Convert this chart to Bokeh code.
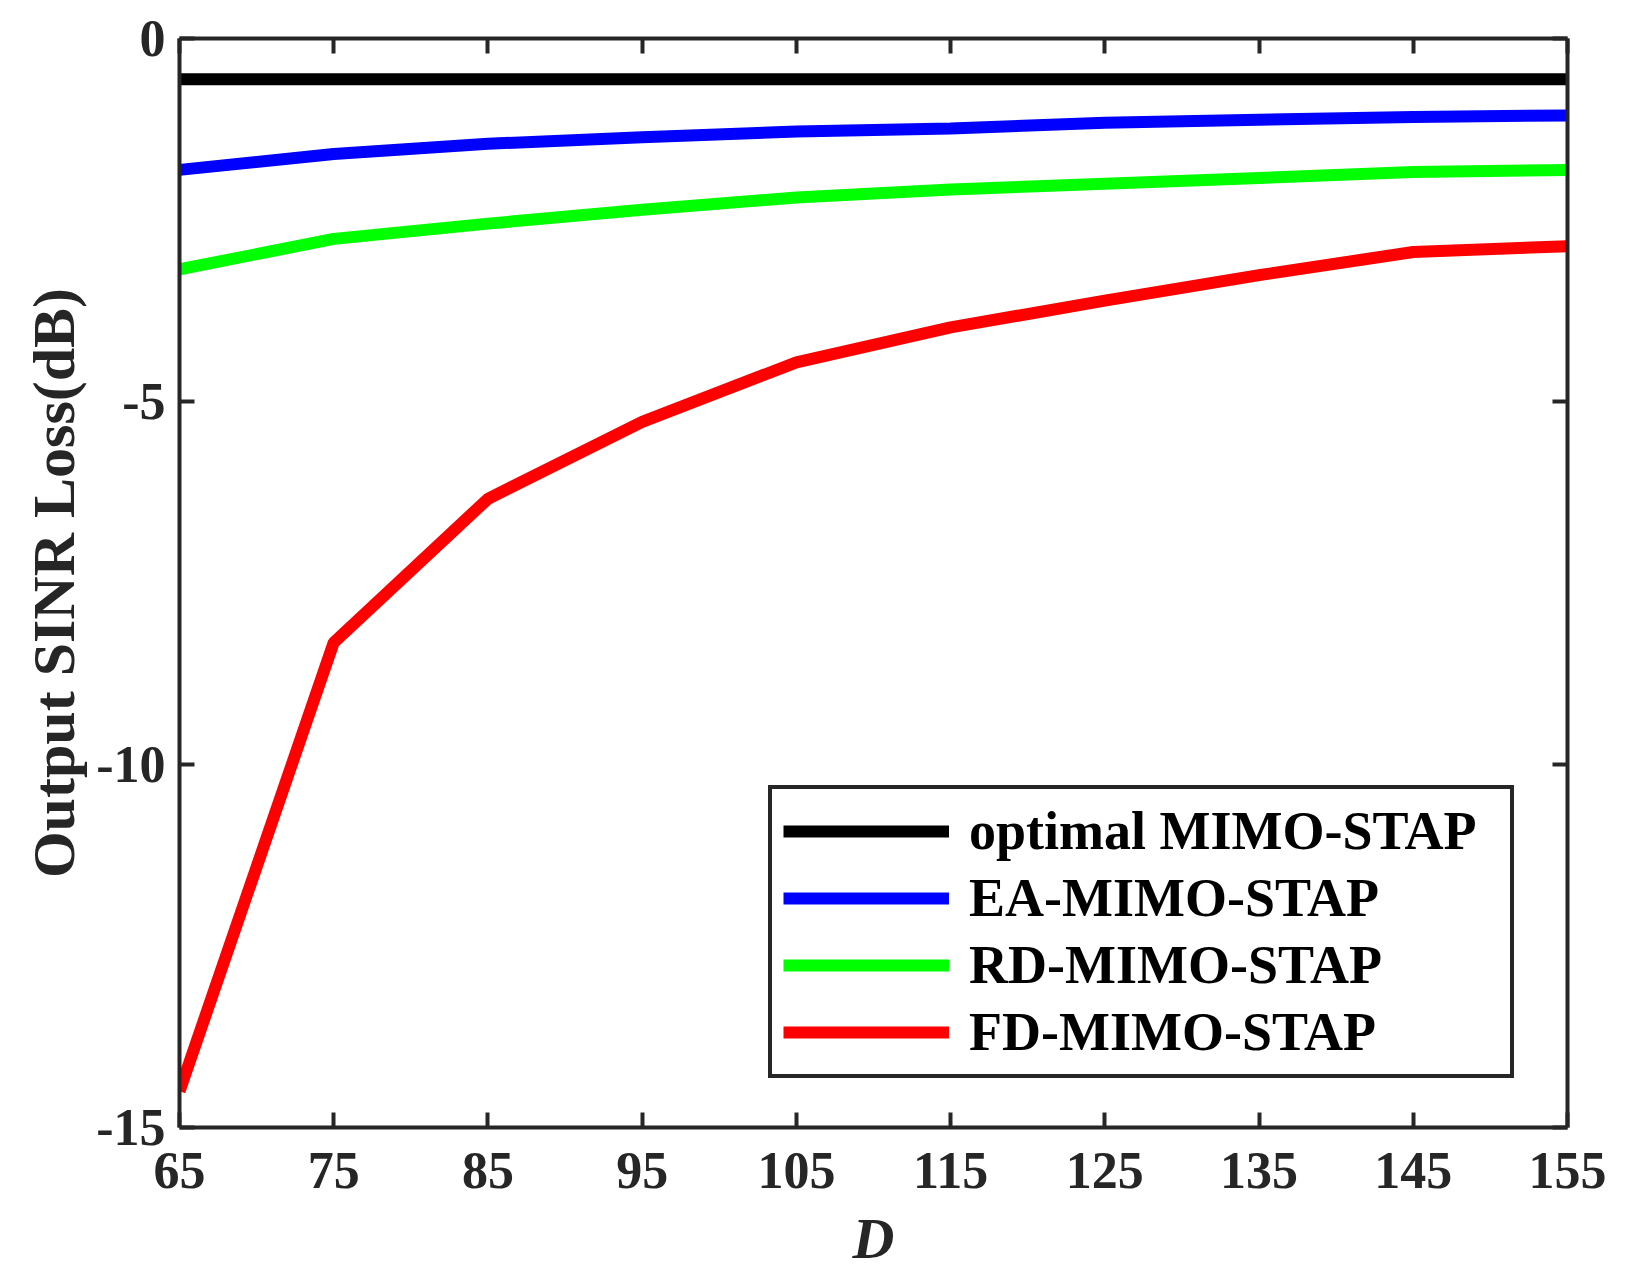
from bokeh.plotting import figure
from bokeh.models import (Range1d, FixedTicker, LinearAxis, Legend, LegendItem,
                          CustomJSTickFormatter, Title)
from bokeh.embed import file_html
from bokeh.resources import INLINE

# SINR loss versus D
D = [65, 75, 85, 95, 105, 115, 125, 135, 145, 155]
optimal = [-0.56, -0.56, -0.56, -0.56, -0.56, -0.56, -0.56, -0.56, -0.56, -0.56]
ea = [-1.81, -1.59, -1.45, -1.36, -1.28, -1.24, -1.16, -1.12, -1.08, -1.06]
rd = [-3.18, -2.76, -2.55, -2.36, -2.19, -2.08, -2.00, -1.92, -1.84, -1.81]
fd = [-14.5, -8.32, -6.34, -5.28, -4.46, -3.98, -3.61, -3.26, -2.94, -2.86]

names = ["optimal MIMO-STAP", "EA-MIMO-STAP", "RD-MIMO-STAP", "FD-MIMO-STAP"]
colors = ["#000000", "#0000ff", "#00ff00", "#ff0000"]
x_ticks = [65, 75, 85, 95, 105, 115, 125, 135, 145, 155]
y_ticks = [-15, -10, -5, 0]

FONT = "Liberation Serif"
AX = "#262626"

p = figure(frame_width=1388, frame_height=1089,
           x_range=Range1d(65, 155), y_range=Range1d(-15, 0),
           output_backend="svg", toolbar_location=None,
           min_border_left=179, min_border_right=50,
           min_border_top=38, min_border_bottom=139)
p.xgrid.visible = False
p.ygrid.visible = False
p.outline_line_color = None

p.add_layout(LinearAxis(), "above")
p.add_layout(LinearAxis(), "right")

for ax in p.xaxis:
    ax.ticker = FixedTicker(ticks=x_ticks)
for ax in p.yaxis:
    ax.ticker = FixedTicker(ticks=y_ticks)

for ax in p.xaxis + p.yaxis:
    ax.axis_line_color = AX
    ax.axis_line_width = 4
    ax.major_tick_line_color = AX
    ax.major_tick_line_width = 4
    ax.major_tick_in = 15
    ax.major_tick_out = 0
    ax.minor_tick_line_color = None
    ax.major_label_text_font = FONT
    ax.major_label_text_font_style = "bold"
    ax.major_label_text_font_size = "52px"
    ax.major_label_text_color = AX

# mirrored axes: ticks only
for ax in [p.above[0], p.right[0]]:
    ax.formatter = CustomJSTickFormatter(code="return ''")
    ax.major_label_standoff = 0

# plain hyphen for negative numbers
p.left[0].formatter = CustomJSTickFormatter(code="return tick.toString()")

p.below[0].major_label_standoff = 25
p.left[0].major_label_standoff = 14

p.below[0].axis_label = "D"
p.below[0].axis_label_text_font = FONT
p.below[0].axis_label_text_font_style = "bold italic"
p.below[0].axis_label_text_font_size = "58px"
p.below[0].axis_label_text_color = AX
p.below[0].axis_label_standoff = 15

ytitle = Title(text="Output SINR Loss(dB)", align="center",
               text_font=FONT, text_font_style="bold", text_font_size="60px",
               text_color=AX, standoff=14)
p.add_layout(ytitle, "left")

items = []
for ys, c, n in zip([optimal, ea, rd, fd], colors, names):
    r = p.line(D, ys, line_color=c, line_width=12)
    items.append(LegendItem(label=n, renderers=[r]))

legend = Legend(items=items, location=(589, 49), margin=0, padding=11,
                spacing=5, glyph_width=166, glyph_height=58,
                label_standoff=20, label_width=530, label_height=58,
                label_text_font=FONT, label_text_font_style="bold",
                label_text_font_size="54px", label_text_color="black",
                border_line_color=AX, border_line_width=4, border_line_alpha=1,
                background_fill_color="white", background_fill_alpha=1)
p.add_layout(legend)

open("out.html", "w").write(file_html(p, INLINE))
